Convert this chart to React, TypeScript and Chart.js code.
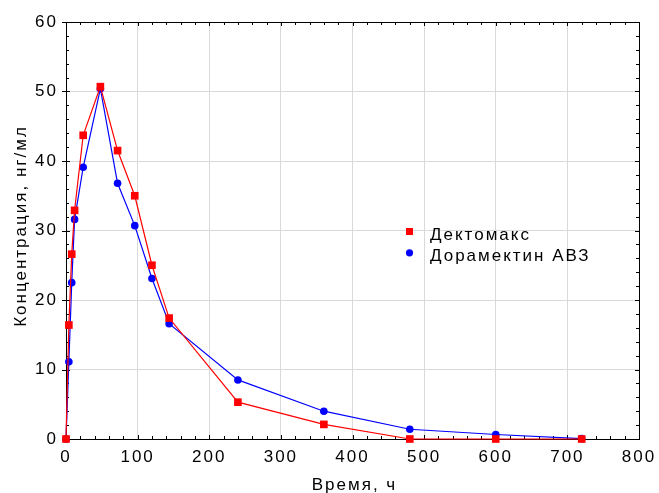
import { useEffect, useRef } from "react";
import { Chart, registerables } from "chart.js";

Chart.register(...registerables);

// ---- data ----
const times = [0, 4, 8, 12, 24, 48, 72, 96, 120, 144, 240, 360, 480, 600, 720];
const dectomax = [0, 16.4, 26.6, 32.9, 43.7, 50.7, 41.5, 35.0, 25.0, 17.4, 5.3, 2.1, 0, 0, 0];
const doramectin = [0, 11.1, 22.5, 31.6, 39.1, 50.4, 36.8, 30.7, 23.1, 16.6, 8.5, 4.0, 1.4, 0.65, 0.05];
const seriesLabels = ["Дектомакс", "Дорамектин АВЗ"];
const xTitle = "Время, ч";
const yTitle = "Концентрация, нг/мл";
const xRange = [0, 800];
const yRange = [0, 60];
const xStep = 100;
const yStep = 10;

const FONT = "'Liberation Sans', Arial, Helvetica, sans-serif";
const RED = "#ff0000";
const BLUE = "#0000ff";

export default function App() {
  const ref = useRef<HTMLCanvasElement | null>(null);

  useEffect(() => {
    document.body.style.margin = "0";
    const canvas = ref.current!;

    const decorPlugin = {
      id: "decor",
      beforeUpdate(chart: any) {
        chart.ctx.letterSpacing = "0px";
      },
      beforeDraw(chart: any) {
        chart.ctx.letterSpacing = "2px";
      },
      beforeDatasetsDraw(chart: any) {
        const { ctx, chartArea } = chart;
        const { left, right, top, bottom } = chartArea;
        const xs = chart.scales.x;
        const ys = chart.scales.y;
        ctx.save();
        ctx.strokeStyle = "#000";
        ctx.lineWidth = 1;
        ctx.beginPath();
        // top and right frame
        ctx.moveTo(left, top + 0.5);
        ctx.lineTo(right + 0.5, top + 0.5);
        ctx.moveTo(right + 0.5, top);
        ctx.lineTo(right + 0.5, bottom + 0.5);
        // minor x ticks (top & bottom, inward)
        for (let v = xRange[0]; v <= xRange[1]; v += xStep / 5) {
          const px = Math.round(xs.getPixelForValue(v)) + 0.5;
          const major = v % xStep === 0;
          const len = major ? 4 : 3;
          ctx.moveTo(px, bottom);
          ctx.lineTo(px, bottom - len);
          ctx.moveTo(px, top);
          ctx.lineTo(px, top + len);
        }
        // minor y ticks (left & right, inward), major left outward
        for (let v = yRange[0]; v <= yRange[1]; v += yStep / 5) {
          const py = Math.round(ys.getPixelForValue(v)) + 0.5;
          const major = Math.abs(v % yStep) < 1e-9;
          const len = major ? 4 : 3;
          ctx.moveTo(left, py);
          ctx.lineTo(left + len, py);
          ctx.moveTo(right, py);
          ctx.lineTo(right - len, py);
          if (major) {
            ctx.moveTo(left - 4, py);
            ctx.lineTo(left, py);
          }
        }
        ctx.stroke();

        // axis titles
        ctx.fillStyle = "#000";
        ctx.font = `17px ${FONT}`;
        ctx.textAlign = "center";
        ctx.textBaseline = "alphabetic";
        ctx.fillText(xTitle, (left + right) / 2 + 2, 489.5);
        ctx.save();
        ctx.translate(25.5, 226);
        ctx.rotate(-Math.PI / 2);
        ctx.fillText(yTitle, 0, 0);
        ctx.restore();
        ctx.restore();
      },
      afterDatasetsDraw(chart: any) {
        const { ctx } = chart;
        ctx.save();
        ctx.font = `17px ${FONT}`;
        ctx.fillStyle = "#000";
        ctx.textAlign = "left";
        ctx.textBaseline = "alphabetic";
        const mx = 409.5;
        const tx = 430;
        // entry 1: red square
        ctx.fillStyle = RED;
        ctx.fillRect(mx - 3.5, 231.5 - 3.5, 7, 7);
        ctx.fillStyle = "#000";
        ctx.fillText(chart.data.datasets[0].label, tx, 240);
        // entry 2: blue circle
        ctx.fillStyle = BLUE;
        ctx.beginPath();
        ctx.arc(mx, 252.8, 3.6, 0, Math.PI * 2);
        ctx.fill();
        ctx.fillStyle = "#000";
        ctx.fillText(chart.data.datasets[1].label, tx, 261.4);
        ctx.restore();
      },
    };

    const chart = new Chart(canvas, {
      type: "line",
      data: {
        datasets: [
          {
            label: seriesLabels[0],
            data: times.map((t, i) => ({ x: t, y: dectomax[i] })),
            borderColor: RED,
            backgroundColor: RED,
            borderWidth: 1.2,
            pointStyle: "rect",
            pointRadius: 5.4,
            pointBorderWidth: 0,
            pointBackgroundColor: RED,
            tension: 0,
            clip: false as any,
          },
          {
            label: seriesLabels[1],
            data: times.map((t, i) => ({ x: t, y: doramectin[i] })),
            borderColor: BLUE,
            backgroundColor: BLUE,
            borderWidth: 1.2,
            pointStyle: "circle",
            pointRadius: 3.8,
            pointBorderWidth: 0,
            pointBackgroundColor: BLUE,
            tension: 0,
            clip: false as any,
          },
        ],
      },
      options: {
        responsive: false,
        animation: false,
        devicePixelRatio: 1,
        layout: { padding: { left: 0, right: 20, top: 22, bottom: 0 } },
        plugins: {
          legend: { display: false },
          tooltip: { enabled: false },
        },
        scales: {
          x: {
            type: "linear",
            min: xRange[0],
            max: xRange[1],
            ticks: {
              stepSize: xStep,
              color: "#000",
              font: { family: FONT, size: 17 },
              padding: 8,
              maxRotation: 0,
            },
            grid: { color: "#d9d9d9", lineWidth: 1, drawTicks: false },
            border: { display: true, color: "#000", width: 1 },
            afterFit: (s: any) => {
              s.height = 54;
              s.paddingLeft = 0;
              s.paddingRight = 0;
            },
          },
          y: {
            type: "linear",
            min: yRange[0],
            max: yRange[1],
            ticks: {
              stepSize: yStep,
              color: "#000",
              font: { family: FONT, size: 17 },
              padding: 8,
            },
            grid: { color: "#d9d9d9", lineWidth: 1, drawTicks: false },
            border: { display: true, color: "#000", width: 1 },
            afterFit: (s: any) => {
              s.width = 66;
              s.paddingTop = 0;
              s.paddingBottom = 0;
            },
          },
        },
      },
      plugins: [decorPlugin as any],
    });

    return () => chart.destroy();
  }, []);

  return (
    <div style={{ width: 659, height: 493, background: "#fff" }}>
      <canvas ref={ref} width={659} height={493} style={{ display: "block" }} />
    </div>
  );
}
